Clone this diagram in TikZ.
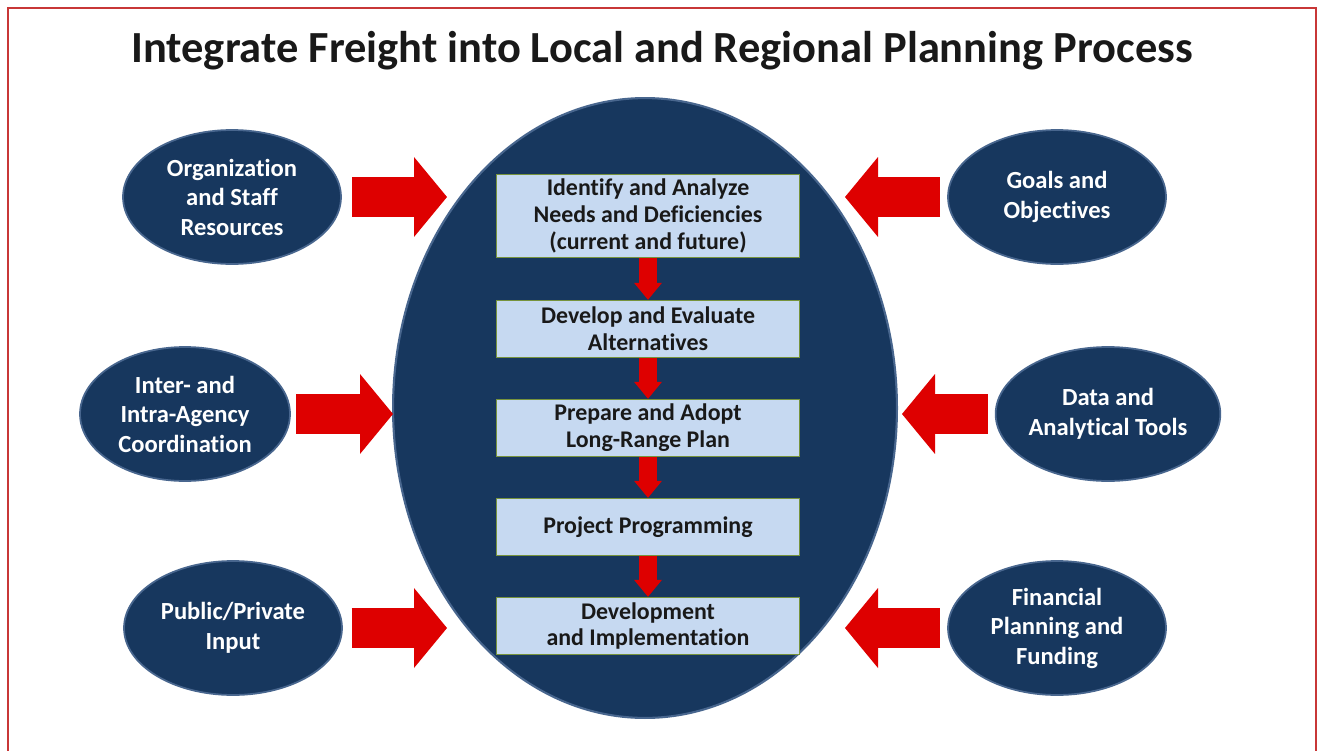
\documentclass[tikz,border=0pt]{standalone}
\usepackage{fontspec}
\setmainfont{Carlito}[Ligatures=NoCommon]
\usetikzlibrary{arrows.meta, shapes.geometric}

\definecolor{navy}{RGB}{23,55,94}
\definecolor{navyrim}{RGB}{72,102,142}
\definecolor{blockred}{RGB}{222,0,0}
\definecolor{stepblue}{RGB}{198,217,241}
\definecolor{stepgreen}{RGB}{119,147,60}
\definecolor{framered}{RGB}{200,55,55}

\tikzset{
  title/.style={font=\fontsize{25.3}{30}\selectfont\bfseries, text=black!90},
  core/.style={ellipse, fill=navy, draw=navyrim, line width=1.2pt,
    minimum width=10.08cm, minimum height=12.4cm, inner sep=0pt},
  input/.style={ellipse, fill=navy, draw=navyrim, line width=1pt,
    minimum width=4.36cm, minimum height=2.68cm, inner sep=0pt,
    text=white, align=center, font=\fontsize{14}{16.8}\selectfont\bfseries},
  stepbox/.style={rectangle, fill=stepblue, draw=stepgreen, line width=0.8pt,
    minimum width=6.06cm, minimum height=1.14cm, inner sep=0pt,
    align=center, text=black!90, font=\fontsize{13.6}{15.3}\selectfont\bfseries},
  bigarrow/.style={draw=blockred, line width=0.8cm,
    -{Triangle[length=0.66cm, width=1.6cm, line width=0pt]}},
  steparrow/.style={draw=blockred, line width=0.36cm,
    -{Triangle[length=0.34cm, width=0.56cm, line width=0pt]}}
}

\begin{document}
\begin{tikzpicture}[x=0.02cm, y=-0.02cm]
  \useasboundingbox (0,0) rectangle (1323,751);
  % frame and heading
  \draw[framered, line width=1.5pt] (8,751) -- (8,8) -- (1316,8) -- (1316,751);
  \node[title, anchor=base] (title) at (662,62) {Integrate Freight into Local and Regional Planning Process};

  % planning process in the middle
  \node[core] (core) at (645,408) {};
  \node[stepbox, minimum height=1.66cm] (needs) at (648,216) {Identify and Analyze\\Needs and Deficiencies\\(current and future)};
  \node[stepbox] (alts) at (648,329) {Develop and Evaluate\\Alternatives};
  \node[stepbox] (plan) at (648,428) {Prepare and Adopt\\Long-Range Plan};
  \node[stepbox] (prog) at (648,527) {Project Programming};
  \node[stepbox] (impl) at (648,626) {Development\\and Implementation};
  \foreach \a/\b in {needs/alts, alts/plan, plan/prog, prog/impl}
    \draw[steparrow] (\a.south) -- (\b.north);

  % inputs on the left
  \node[input] (staff) at (232,197) {Organization\\and Staff\\Resources};
  \node[input, minimum width=4.2cm] (agency) at (185,414) {Inter- and\\Intra-Agency\\Coordination};
  \node[input] (public) at (233,628) {Public/Private\\Input};
  % inputs on the right
  \node[input] (goals) at (1057,197) {Goals and\\Objectives};
  \node[input, minimum width=4.2cm] (data) at (1108,414) {Data and\\Analytical Tools};
  \node[input] (funding) at (1057,628) {Financial\\Planning and\\Funding};

  % block arrows into the process
  \coordinate (inA) at (447,197);
  \coordinate (inB) at (393,414);
  \coordinate (inC) at (447,628);
  \coordinate (inD) at (845,197);
  \coordinate (inE) at (902,414);
  \coordinate (inF) at (845,628);
  \draw[bigarrow, shorten <=6pt] (staff.east) -- (inA);
  \draw[bigarrow, shorten <=3pt] (agency.east) -- (inB);
  \draw[bigarrow, shorten <=5pt] (public.east) -- (inC);
  \draw[bigarrow, shorten <=4pt] (goals.west) -- (inD);
  \draw[bigarrow, shorten <=4pt] (data.west) -- (inE);
  \draw[bigarrow, shorten <=4pt] (funding.west) -- (inF);
\end{tikzpicture}
\end{document}
